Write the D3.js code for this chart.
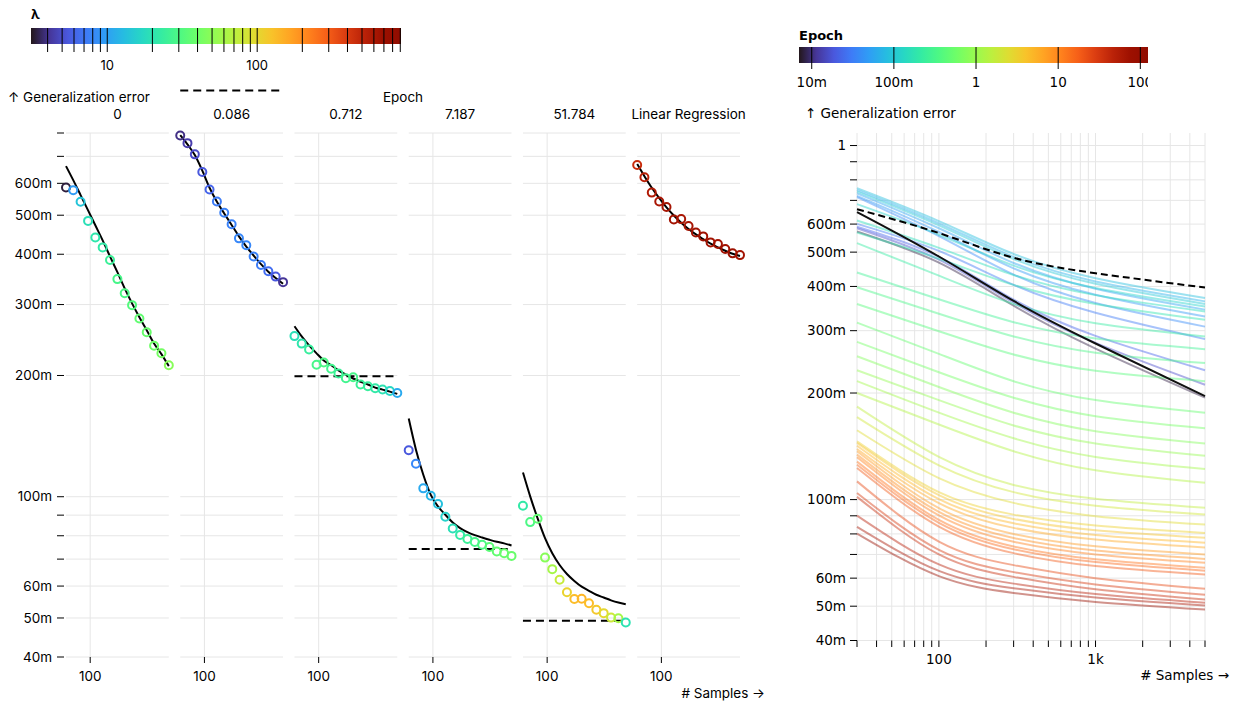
<!DOCTYPE html>
<html>
<head>
<meta charset="utf-8">
<script src="https://cdn.jsdelivr.net/npm/d3@7"></script>
<style>
  body { margin: 0; background: #fff; }
  svg { display: block; }
</style>
</head>
<body>
<svg id="chart" width="1239" height="704"></svg>
<script>
// ---------- data ----------

// sample sizes (x) shared by every facet
var samples = [30, 43, 62, 90, 129, 186, 268, 387, 557, 803, 1157, 1667, 2402, 3461, 5000];

// facets (epoch the ridge model was stopped at)
var facetNames = ["0", "0.086", "0.712", "7.187", "51.784", "Linear Regression"];

// measured generalization error per facet
var pointErr = [
  [0.586, 0.577, 0.540, 0.484, 0.440, 0.416, 0.387, 0.347, 0.320, 0.299, 0.277, 0.256, 0.237, 0.227, 0.212],
  [0.789, 0.755, 0.708, 0.640, 0.579, 0.541, 0.507, 0.475, 0.438, 0.421, 0.395, 0.376, 0.363, 0.352, 0.341],
  [0.2505, 0.240, 0.232, 0.2127, 0.2154, 0.2078, 0.2023, 0.1969, 0.198, 0.190, 0.188, 0.186, 0.1846, 0.183, 0.181],
  [0.1304, 0.1208, 0.1049, 0.1006, 0.0959, 0.0892, 0.0834, 0.0804, 0.0785, 0.0772, 0.0760, 0.0750, 0.0731, 0.0724, 0.0713],
  [0.0950, 0.0865, 0.0882, 0.0706, 0.0661, 0.0622, 0.0579, 0.0557, 0.0558, 0.0544, 0.0524, 0.0514, 0.0501, 0.0499, 0.0487],
  [0.666, 0.621, 0.569, 0.541, 0.524, 0.488, 0.489, 0.470, 0.453, 0.443, 0.428, 0.424, 0.412, 0.402, 0.398]
];

// best lambda for each point
var pointLambda = [
  [3.3, 9.6, 14, 19, 21, 22, 25, 28.5, 30, 32, 36, 38, 40, 42, 48],
  [3.9, 4.4, 4.9, 5.5, 6.1, 7.3, 7.7, 7.7, 8.1, 8.1, 7.7, 7.3, 6.5, 5.5, 4.1],
  [19, 21, 24, 28.5, 30, 27, 25, 27, 28.5, 25, 24, 22, 20, 17, 10.8],
  [5.5, 8.1, 10.8, 12, 13.4, 16, 19, 22, 25, 28.5, 30, 34, 36, 38, 38],
  [22, 30, 36, 48, 60, 76, 105, 132, 140, 132, 119, 100, 80, 60, 20],
  [460, 520, 560, 600, 620, 640, 600, 620, 650, 660, 640, 650, 660, 680, 640]
];

// fitted curve per facet
var fitErr = [
  [0.662, 0.611, 0.561, 0.514, 0.472, 0.433, 0.395, 0.361, 0.329, 0.302, 0.279, 0.259, 0.240, 0.226, 0.211],
  [0.790, 0.750, 0.705, 0.645, 0.585, 0.540, 0.505, 0.473, 0.443, 0.418, 0.397, 0.378, 0.362, 0.349, 0.338],
  [0.265, 0.250, 0.2375, 0.227, 0.218, 0.212, 0.206, 0.201, 0.1966, 0.193, 0.190, 0.1866, 0.1845, 0.1824, 0.180],
  [0.1564, 0.1309, 0.1134, 0.1011, 0.0946, 0.0902, 0.0863, 0.0836, 0.0817, 0.0803, 0.0792, 0.0782, 0.0773, 0.0766, 0.0757],
  [0.1149, 0.1002, 0.0885, 0.0789, 0.0724, 0.0677, 0.0643, 0.0618, 0.0598, 0.0584, 0.0571, 0.0562, 0.0553, 0.0546, 0.0541],
  [0.670, 0.625, 0.585, 0.551, 0.523, 0.499, 0.479, 0.462, 0.448, 0.436, 0.425, 0.416, 0.408, 0.401, 0.396]
];

// asymptote of the fit (null = none drawn)
var asymptote = [null, 1.02, 0.199, 0.0742, 0.0492, null];

// right chart: error curves per epoch
var curveSamples = [30, 100, 300, 1000, 5000];
var curveEpochs = [0.008, 0.016, 0.022, 0.03, 0.038, 0.046, 0.055, 0.068, 0.085, 0.1, 0.12, 0.15, 0.18,
  0.22, 0.27, 0.33, 0.4, 0.5, 0.62, 0.75, 0.92, 1.1, 1.35, 1.65, 2.0, 2.5,
  3.2, 4, 5, 6.2, 7.5, 9, 11, 13, 16, 19, 24, 30, 38, 48, 62, 80];
var curveErr = [
  [0.572, 0.467, 0.353, 0.267, 0.194],
  [0.584, 0.476, 0.360, 0.277, 0.211],
  [0.590, 0.485, 0.367, 0.290, 0.232],
  [0.601, 0.504, 0.404, 0.337, 0.284],
  [0.715, 0.555, 0.432, 0.359, 0.308],
  [0.721, 0.570, 0.450, 0.379, 0.329],
  [0.733, 0.584, 0.466, 0.394, 0.344],
  [0.749, 0.603, 0.485, 0.413, 0.363],
  [0.758, 0.612, 0.494, 0.422, 0.371],
  [0.741, 0.595, 0.478, 0.407, 0.357],
  [0.683, 0.560, 0.458, 0.396, 0.351],
  [0.614, 0.514, 0.431, 0.378, 0.340],
  [0.568, 0.479, 0.404, 0.357, 0.322],
  [0.530, 0.429, 0.357, 0.315, 0.289],
  [0.438, 0.368, 0.317, 0.285, 0.266],
  [0.398, 0.335, 0.289, 0.260, 0.243],
  [0.357, 0.299, 0.257, 0.231, 0.216],
  [0.316, 0.258, 0.216, 0.191, 0.176],
  [0.279, 0.229, 0.194, 0.172, 0.159],
  [0.254, 0.208, 0.176, 0.156, 0.144],
  [0.232, 0.191, 0.162, 0.144, 0.133],
  [0.216, 0.176, 0.149, 0.132, 0.122],
  [0.200, 0.163, 0.137, 0.121, 0.1115],
  [0.183, 0.132, 0.110, 0.1005, 0.0948],
  [0.171, 0.125, 0.105, 0.0961, 0.0907],
  [0.157, 0.115, 0.0979, 0.0898, 0.0850],
  [0.146, 0.105, 0.0907, 0.0845, 0.0805],
  [0.1445, 0.103, 0.0882, 0.0819, 0.0780],
  [0.142, 0.1003, 0.0857, 0.0794, 0.0755],
  [0.139, 0.0977, 0.0832, 0.0771, 0.0732],
  [0.137, 0.0946, 0.0800, 0.0738, 0.0700],
  [0.134, 0.0923, 0.0779, 0.0718, 0.0680],
  [0.1317, 0.0902, 0.0760, 0.0700, 0.0663],
  [0.128, 0.0876, 0.0737, 0.0678, 0.0642],
  [0.1255, 0.0860, 0.0724, 0.0666, 0.0630],
  [0.1228, 0.0839, 0.0706, 0.0649, 0.0614],
  [0.1126, 0.0761, 0.0653, 0.0600, 0.0560],
  [0.1044, 0.0721, 0.0624, 0.0576, 0.0539],
  [0.1018, 0.0700, 0.0605, 0.0558, 0.0522],
  [0.0901, 0.0656, 0.0579, 0.0541, 0.0511],
  [0.0838, 0.0629, 0.0562, 0.0529, 0.0502],
  [0.0802, 0.0608, 0.0545, 0.0514, 0.0489]
];
var regressionCurve = [0.649, 0.486, 0.364, 0.276, 0.196];
var limitCurve = [0.661, 0.566, 0.482, 0.436, 0.397];

// ticks
var lambdaTicks = [4, 5, 6, 7, 8, 9, 10, 20, 30, 40, 50, 60, 70, 80, 90, 100, 200, 300, 400, 500, 600, 700, 800, 900];
var lambdaLabels = [10, 100];
var epochTicks = [0.01, 0.1, 1, 10, 100];
var epochTickLabels = ["10m", "100m", "1", "10", "100"];
var errTicks = [0.04, 0.05, 0.06, 0.07, 0.08, 0.09, 0.1, 0.2, 0.3, 0.4, 0.5, 0.6, 0.7, 0.8, 0.9, 1];
var errLabeled = [0.04, 0.05, 0.06, 0.1, 0.2, 0.3, 0.4, 0.5, 0.6, 1];
var sampleTicks = [30, 40, 50, 60, 70, 80, 90, 100, 200, 300, 400, 500, 600, 700, 800, 900, 1000, 2000, 3000, 4000, 5000];
var sampleLabels = {100: "100", 1000: "1k"};

// ---------- setup ----------
var svg = d3.select("#chart");
var leftFont = "Inter, 'Noto Sans', sans-serif",
    rightFont = "'DejaVu Sans', Verdana, sans-serif";
var gridColor = "#e6e6e6";
var fmt = d3.format("~s");
var defs = svg.append("defs");

function gradient(id) {
  var g = defs.append("linearGradient").attr("id", id);
  d3.range(0, 1.0001, 0.05).forEach(function(t) {
    g.append("stop").attr("offset", t).attr("stop-color", d3.interpolateTurbo(t));
  });
}
gradient("turboGrad");

// ---------- lambda legend ----------
var lamColor = d3.scaleSequentialLog(d3.interpolateTurbo).domain([3.1, 910]);
var lamX = d3.scaleLog().domain([3.1, 910]).range([31, 401]);

var lamLeg = svg.append("g").style("font-family", leftFont).style("font-size", "13px");
lamLeg.append("text").attr("x", 31).attr("y", 19).style("font-weight", "bold").text("λ");
lamLeg.append("rect").attr("x", 31).attr("y", 28).attr("width", 370).attr("height", 16)
  .attr("fill", "url(#turboGrad)");
lamLeg.selectAll(".t").data(lambdaTicks).enter().append("line")
  .attr("x1", function(d) { return lamX(d); }).attr("x2", function(d) { return lamX(d); })
  .attr("y1", 28).attr("y2", 52).attr("stroke", "#000");
lamLeg.selectAll(".l").data(lambdaLabels).enter().append("text")
  .attr("x", function(d) { return lamX(d); }).attr("y", 70)
  .attr("text-anchor", "middle").text(function(d) { return d; });

// ---------- epoch legend ----------
var epochColor = d3.scaleSequentialLog(d3.interpolateTurbo).domain([0.007, 124]);
var epX = d3.scaleLog().domain([0.007, 124]).range([799, 1148]);

defs.append("clipPath").attr("id", "epClip").append("rect")
  .attr("x", 797).attr("y", 0).attr("width", 351).attr("height", 100);

var epLeg = svg.append("g").style("font-family", rightFont).style("font-size", "13.5px");
epLeg.append("text").attr("x", 799).attr("y", 40).style("font-weight", "bold")
  .style("font-size", "13px").text("Epoch");
var epBody = epLeg.append("g").attr("clip-path", "url(#epClip)");
epBody.append("rect").attr("x", 799).attr("y", 47).attr("width", 349).attr("height", 16)
  .attr("fill", "url(#turboGrad)");
epBody.selectAll(".t").data(epochTicks).enter().append("line")
  .attr("x1", function(d) { return epX(d); }).attr("x2", function(d) { return epX(d); })
  .attr("y1", 47).attr("y2", 69).attr("stroke", "#000");
epBody.selectAll(".l").data(epochTicks).enter().append("text")
  .attr("x", function(d) { return epX(d); }).attr("y", 87)
  .attr("text-anchor", "middle").text(function(d, i) { return epochTickLabels[i]; });

// ---------- left: faceted chart ----------
var fx = d3.scaleBand().domain(facetNames).range([66, 740]).paddingInner(0.1);
var x = d3.scaleLog().domain([30, 5000]).range([0, fx.bandwidth()]);
var y = d3.scaleLog().domain([0.04, 0.8]).range([657, 133]);
var leftTicks = errTicks.filter(function(d) { return d <= 0.8; });

var left = svg.append("g").style("font-family", leftFont).style("font-size", "13.5px");

left.append("text").attr("x", 8).attr("y", 102).text("↑ Generalization error");
left.append("text").attr("x", 403).attr("y", 102).attr("text-anchor", "middle").text("Epoch");
left.append("text").attr("x", 765).attr("y", 698).attr("text-anchor", "end").text("# Samples →");

// y axis
left.selectAll(".yt").data(leftTicks).enter().append("line")
  .attr("x1", 57).attr("x2", 64)
  .attr("y1", function(d) { return y(d); }).attr("y2", function(d) { return y(d); })
  .attr("stroke", "#000");
left.selectAll(".yl").data(leftTicks.filter(function(d) { return errLabeled.indexOf(d) >= 0; }))
  .enter().append("text")
  .attr("x", 52).attr("y", function(d) { return y(d); }).attr("dy", "0.34em")
  .attr("text-anchor", "end").text(function(d) { return fmt(d); });

var line = d3.line()
  .x(function(d) { return x(d[0]); })
  .y(function(d) { return y(d[1]); })
  .curve(d3.curveMonotoneX);

facetNames.forEach(function(name, i) {
  var g = left.append("g").attr("transform", "translate(" + fx(name) + ",0)");

  g.append("text").attr("x", fx.bandwidth() / 2).attr("y", 119)
    .attr("text-anchor", "middle").text(name);

  // grid
  g.selectAll(".gy").data(leftTicks).enter().append("line")
    .attr("x1", 0).attr("x2", fx.bandwidth())
    .attr("y1", function(d) { return y(d); }).attr("y2", function(d) { return y(d); })
    .attr("stroke", gridColor);
  g.append("line").attr("x1", x(100)).attr("x2", x(100)).attr("y1", 133).attr("y2", 657)
    .attr("stroke", gridColor);

  // x axis
  g.append("line").attr("x1", x(100)).attr("x2", x(100)).attr("y1", 657).attr("y2", 663)
    .attr("stroke", "#000");
  g.append("text").attr("x", x(100)).attr("y", 681).attr("text-anchor", "middle").text("100");

  // fit
  var fit = samples.map(function(s, j) { return [s, fitErr[i][j]]; });
  g.append("path").attr("d", line(fit)).attr("fill", "none")
    .attr("stroke", "#000").attr("stroke-width", 2);

  if (asymptote[i] != null) {
    g.append("line").attr("x1", x(30)).attr("x2", x(5000))
      .attr("y1", y(asymptote[i])).attr("y2", y(asymptote[i]))
      .attr("stroke", "#000").attr("stroke-width", 2).attr("stroke-dasharray", "8,5");
  }

  // points
  g.selectAll("circle").data(samples).enter().append("circle")
    .attr("cx", function(d) { return x(d); })
    .attr("cy", function(d, j) { return y(pointErr[i][j]); })
    .attr("r", 4)
    .attr("fill", "none")
    .attr("stroke", function(d, j) { return lamColor(pointLambda[i][j]); })
    .attr("stroke-width", 2);
});

// ---------- right: curves per epoch ----------
var xr = d3.scaleLog().domain([30, 5000]).range([857, 1205]);
var yr = d3.scaleLog().domain([0.04, 1.085]).range([640.5, 133]);

var right = svg.append("g").style("font-family", rightFont).style("font-size", "13.5px");

right.append("text").attr("x", 805).attr("y", 118).text("↑ Generalization error");
right.append("text").attr("x", 1229).attr("y", 680).attr("text-anchor", "end").text("# Samples →");

// grid
right.selectAll(".gx").data(sampleTicks).enter().append("line")
  .attr("x1", function(d) { return xr(d); }).attr("x2", function(d) { return xr(d); })
  .attr("y1", 133).attr("y2", 640.5).attr("stroke", gridColor);
right.selectAll(".gy").data(errTicks).enter().append("line")
  .attr("x1", 857).attr("x2", 1205)
  .attr("y1", function(d) { return yr(d); }).attr("y2", function(d) { return yr(d); })
  .attr("stroke", gridColor);

// axes
right.selectAll(".xt").data(sampleTicks).enter().append("line")
  .attr("x1", function(d) { return xr(d); }).attr("x2", function(d) { return xr(d); })
  .attr("y1", 640.5).attr("y2", 647).attr("stroke", "#000");
right.selectAll(".xl").data([100, 1000]).enter().append("text")
  .attr("x", function(d) { return xr(d); }).attr("y", 664)
  .attr("text-anchor", "middle").text(function(d) { return sampleLabels[d]; });
right.selectAll(".yt").data(errTicks).enter().append("line")
  .attr("x1", 850).attr("x2", 857)
  .attr("y1", function(d) { return yr(d); }).attr("y2", function(d) { return yr(d); })
  .attr("stroke", "#000");
right.selectAll(".yl").data(errLabeled).enter().append("text")
  .attr("x", 846).attr("y", function(d) { return yr(d); }).attr("dy", "0.34em")
  .attr("text-anchor", "end").text(function(d) { return fmt(d); });

var rline = d3.line()
  .x(function(d, j) { return xr(curveSamples[j]); })
  .y(function(d) { return yr(d); })
  .curve(d3.curveNatural);

right.selectAll(".curve").data(curveErr).enter().append("path")
  .attr("d", function(d) { return rline(d); })
  .attr("fill", "none")
  .attr("stroke", function(d, i) { return epochColor(curveEpochs[i]); })
  .attr("stroke-opacity", 0.45)
  .attr("stroke-width", 2);

right.append("path").attr("d", rline(regressionCurve)).attr("fill", "none")
  .attr("stroke", "#111").attr("stroke-width", 2);
right.append("path").attr("d", rline(limitCurve)).attr("fill", "none")
  .attr("stroke", "#000").attr("stroke-width", 2).attr("stroke-dasharray", "7,4");
</script>
</body>
</html>
